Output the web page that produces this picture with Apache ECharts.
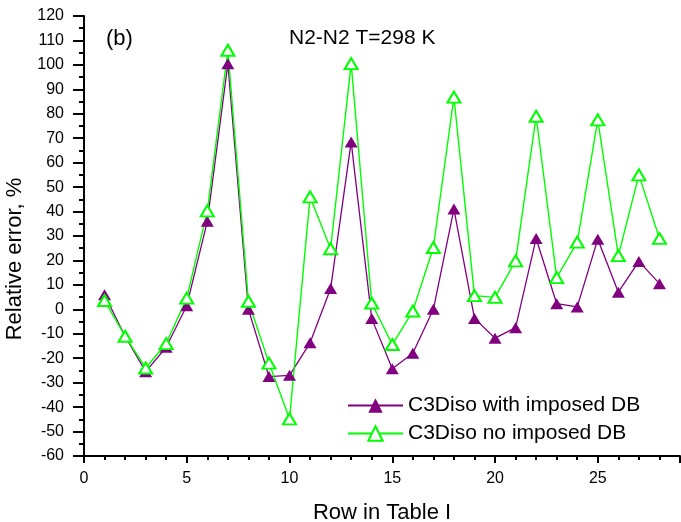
<!DOCTYPE html>
<html>
<head>
<meta charset="utf-8">
<script src="https://cdn.jsdelivr.net/npm/echarts@6/dist/echarts.min.js"></script>
<style>
html,body{margin:0;padding:0;background:#fff;}
#chart{width:681px;height:522px;}
</style>
</head>
<body>
<div id="chart"></div>
<script>
const rows = [1,2,3,4,5,6,7,8,9,10,11,12,13,14,15,16,17,18,19,20,21,22,23,24,25,26,27,28];
const withImposedDB = [6,-11,-25.5,-15.5,1.5,36,100.5,0,-27.5,-27,-13.7,8.5,68.5,-3.8,-24.3,-18,0,41,-3.7,-11.8,-7.5,29,2.3,1,28.7,7,19.6,10.5];
const noImposedDB = [3.6,-11,-24,-14,4.6,40.3,106,3.3,-22,-44.8,46,24.8,100.5,2.6,-14.4,-0.7,25.3,86.8,5.6,4.9,19.8,79,13,27.5,77.5,22,55,29];
const seriesNames = ['C3Diso with imposed DB','C3Diso no imposed DB'];
const titleText = 'N2-N2 T=298 K';
const panelText = '(b)';
const xName = 'Row in Table I';
const yName = 'Relative error, %';

const font = 'Liberation Sans, Arial, sans-serif';
const chart = echarts.init(document.getElementById('chart'), null, {renderer:'canvas'});
const pair = (ys) => rows.map((x,i)=>[x, ys[i]]);

chart.setOption({
  animation:false,
  backgroundColor:'#fff',
  textStyle:{fontFamily:font},
  title:[
    {text:panelText, left:106, top:28, padding:0, textStyle:{fontSize:22, fontWeight:'normal', color:'#000', fontFamily:font}},
    {text:titleText, left:289, top:28, padding:0, textStyle:{fontSize:21, fontWeight:'normal', color:'#000', fontFamily:font}}
  ],
  grid:{left:84, right:1, top:16, bottom:66, containLabel:false, outerBoundsMode:'none'},
  legend:{
    orient:'vertical', left:347, top:395, padding:0, itemWidth:55, itemHeight:18, itemGap:7,
    textStyle:{fontSize:21, color:'#000', fontFamily:font},
    data:seriesNames
  },
  xAxis:{
    type:'value', min:0, max:29, interval:5,
    name:xName, nameLocation:'middle', nameGap:46,
    nameTextStyle:{fontSize:22, color:'#000', fontFamily:font},
    axisLine:{onZero:false, lineStyle:{color:'#000', width:2}},
    axisTick:{show:true, inside:false, length:7, lineStyle:{color:'#000', width:2}},
    minorTick:{show:true, splitNumber:5, length:4, lineStyle:{color:'#000', width:2}},
    axisLabel:{fontSize:16, color:'#000', margin:15, showMaxLabel:false, fontFamily:font},
    splitLine:{show:false}
  },
  yAxis:{
    type:'value', min:-60, max:120, interval:10,
    name:yName, nameLocation:'middle', nameGap:56,
    nameTextStyle:{fontSize:22, color:'#000', fontFamily:font, padding:[0,46,0,0]},
    axisLine:{onZero:false, lineStyle:{color:'#000', width:2}},
    axisTick:{show:true, inside:false, length:11, lineStyle:{color:'#000', width:2}},
    minorTick:{show:true, splitNumber:2, length:5, lineStyle:{color:'#000', width:2}},
    axisLabel:{fontSize:16, color:'#000', margin:20, fontFamily:font},
    splitLine:{show:false}
  },
  series:[
    {
      name:seriesNames[0], type:'line', data:pair(withImposedDB),
      symbol:'triangle', symbolSize:[13,11],
      itemStyle:{color:'#800080'},
      lineStyle:{color:'#800080', width:1.3}
    },
    {
      name:seriesNames[1], type:'line', data:pair(noImposedDB),
      symbol:'emptyTriangle', symbolSize:[13,11],
      itemStyle:{color:'#00ff00', borderWidth:1.6},
      lineStyle:{color:'#00ff00', width:1.4}
    }
  ]
});
</script>
</body>
</html>
